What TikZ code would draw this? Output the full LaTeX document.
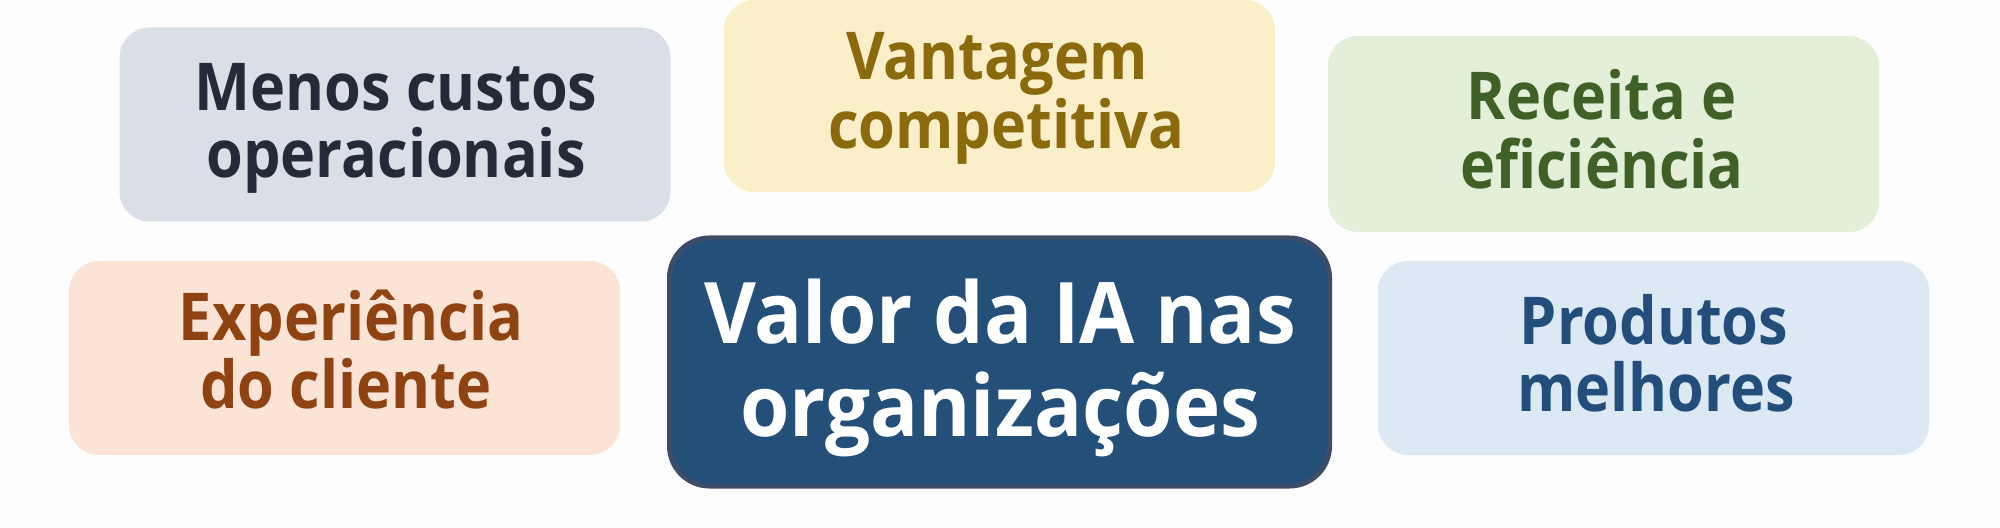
\documentclass[tikz,border=0pt]{standalone}
\usepackage{fontspec}
\setmainfont{Open Sans}
\newfontfamily\boxfont[FakeStretch=0.9]{Open Sans}
\newfontfamily\centfont[FakeStretch=0.94]{Open Sans}
\definecolor{bgc}{HTML}{FDFDFD}
\definecolor{menosF}{HTML}{D9DEE7}
\definecolor{menosT}{HTML}{232B38}
\definecolor{vantF}{HTML}{FBEFC9}
\definecolor{vantT}{HTML}{8A6A0C}
\definecolor{recF}{HTML}{E3EFD9}
\definecolor{recT}{HTML}{3F6026}
\definecolor{expF}{HTML}{FBE3D6}
\definecolor{expT}{HTML}{8F4212}
\definecolor{prodF}{HTML}{DCE9F5}
\definecolor{prodT}{HTML}{234E7B}
\definecolor{centF}{HTML}{234F79}
\definecolor{centD}{HTML}{3D4C68}
\begin{document}
\begin{tikzpicture}[x=0.5pt,y=-0.5pt,
  box/.style={rounded corners=15pt, inner sep=0pt,
    minimum width=275.5pt, minimum height=97pt},
  ln/.style={anchor=base, inner sep=0pt,
    font=\boxfont\fontsize{33pt}{33.5pt}\selectfont\bfseries},
  centbox/.style={rounded corners=20pt, inner sep=0pt,
    draw=centD, line width=2.5pt, fill=centF,
    minimum width=330pt, minimum height=124pt},
  cln/.style={anchor=base, inner sep=0pt, text=white,
    font=\centfont\fontsize{42.5pt}{46.3pt}\selectfont\bfseries}]
\useasboundingbox[fill=bgc] (0,0) rectangle (2000,528);
% outer boxes
\node[box, fill=menosF] (menos) at (395,124.5) {};
\node[box, fill=vantF, minimum height=96pt] (vant) at (999.5,96) {};
\node[box, fill=recF, minimum height=98pt] (rec) at (1603.5,134) {};
\node[box, fill=expF] (exp) at (344.5,358) {};
\node[box, fill=prodF] (prod) at (1653.5,358) {};
% texts
\node[ln, text=menosT] (menosA) at (396,111) {Menos custos};
\node[ln, text=menosT] (menosB) at (396,178) {operacionais};
\node[ln, text=vantT] (vantA) at (997,79.3) {Vantagem};
\node[ln, text=vantT] (vantB) at (1006,148.3) {competitiva};
\node[ln, text=recT] (recA) at (1602,120) {Receita e};
\node[ln, text=recT] (recB) at (1602,188.3) {eficiência};
\node[ln, text=expT] (expA) at (351,340.7) {Experiência};
\node[ln, text=expT] (expB) at (346,408.3) {do cliente};
\node[ln, text=prodT] (prodA) at (1654,345) {Produtos};
\node[ln, text=prodT] (prodB) at (1656,411.7) {melhores};
% centre
\node[centbox] (cent) at (999.5,362) {};
\node[cln] (centA) at (1000,344) {Valor da IA nas};
\node[cln] (centB) at (1000,436.7) {organizações};
\end{tikzpicture}
\end{document}
